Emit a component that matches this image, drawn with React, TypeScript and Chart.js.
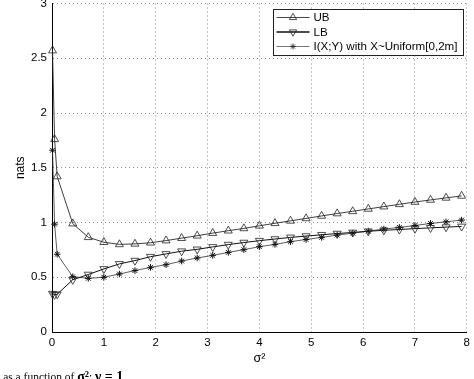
import { useEffect, useRef } from 'react';
import { Chart, registerables } from 'chart.js';

Chart.register(...registerables);

const sigma2 = [0.01, 0.05, 0.1, 0.4, 0.7, 1.0, 1.3, 1.6, 1.9, 2.2, 2.5, 2.8, 3.1, 3.4, 3.7, 4.0, 4.3, 4.6, 4.9, 5.2, 5.5, 5.8, 6.1, 6.4, 6.7, 7.0, 7.3, 7.6, 7.9];
const ubValues = [2.57, 1.76, 1.42, 0.99, 0.865, 0.82, 0.80, 0.805, 0.815, 0.835, 0.857, 0.879, 0.903, 0.925, 0.946, 0.970, 0.993, 1.015, 1.037, 1.060, 1.082, 1.102, 1.124, 1.145, 1.166, 1.187, 1.206, 1.225, 1.243];
const lbValues = [0.35, 0.34, 0.345, 0.477, 0.525, 0.576, 0.622, 0.652, 0.688, 0.713, 0.738, 0.755, 0.777, 0.798, 0.817, 0.834, 0.849, 0.864, 0.876, 0.888, 0.899, 0.909, 0.920, 0.929, 0.936, 0.944, 0.951, 0.958, 0.964];
const miValues = [1.66, 0.985, 0.71, 0.505, 0.49, 0.50, 0.53, 0.561, 0.59, 0.615, 0.648, 0.676, 0.70, 0.727, 0.752, 0.779, 0.80, 0.825, 0.845, 0.864, 0.885, 0.903, 0.921, 0.94, 0.955, 0.973, 0.991, 1.006, 1.022];

const seriesLabels = ['UB', 'LB', 'I(X;Y) with X~Uniform[0,2m]'];
const xTickLabels = ['0', '1', '2', '3', '4', '5', '6', '7', '8'];
const yTickLabels = ['0', '0.5', '1', '1.5', '2', '2.5', '3'];
const xTitle = 'σ²';
const yTitle = 'nats';

const FONT = "'Liberation Sans', Arial, Helvetica, sans-serif";
const OFFSET_TOP = 20;

function drawMarker(ctx: CanvasRenderingContext2D, kind: string, x: number, y: number, r: number) {
  ctx.beginPath();
  if (kind === 'up' || kind === 'down') {
    const base = kind === 'up' ? -Math.PI / 2 : Math.PI / 2;
    for (let k = 0; k < 3; k++) {
      const a = base + (k * 2 * Math.PI) / 3;
      const px = x + Math.cos(a) * r;
      const py = y + Math.sin(a) * r;
      if (k === 0) ctx.moveTo(px, py); else ctx.lineTo(px, py);
    }
    ctx.closePath();
  } else {
    for (let k = 0; k < 4; k++) {
      const a = (k * Math.PI) / 4;
      ctx.moveTo(x - Math.cos(a) * r, y - Math.sin(a) * r);
      ctx.lineTo(x + Math.cos(a) * r, y + Math.sin(a) * r);
    }
  }
  ctx.stroke();
}

const boxLegend = {
  id: 'boxLegend',
  afterDraw(chart: any) {
    const ctx = chart.ctx as CanvasRenderingContext2D;
    const left = 273.5;
    const top = 9.5 + OFFSET_TOP;
    const w = 190;
    const h = 46;
    ctx.save();
    ctx.fillStyle = '#fff';
    ctx.fillRect(left, top, w, h);
    ctx.strokeStyle = '#222';
    ctx.lineWidth = 1;
    ctx.strokeRect(left, top, w, h);
    const kinds = ['up', 'down', 'star'];
    const widths = [0.9, 1.5, 0.8];
    const colors = ['#333', '#111', '#555'];
    const rowY = [top + 8, top + 22.5, top + 37];
    chart.data.datasets.forEach((ds: any, i: number) => {
      const y = rowY[i];
      ctx.strokeStyle = colors[i];
      ctx.lineWidth = widths[i];
      ctx.beginPath();
      ctx.moveTo(left + 3, y);
      ctx.lineTo(left + 36, y);
      ctx.stroke();
      ctx.lineWidth = 0.8;
      ctx.strokeStyle = '#222';
      drawMarker(ctx, kinds[i], left + 19.5, y, kinds[i] === 'star' ? 3 : 4.2);
      ctx.fillStyle = '#000';
      ctx.font = `11.6px ${FONT}`;
      ctx.textBaseline = 'middle';
      ctx.textAlign = 'left';
      ctx.fillText(ds.label, left + 40, y + 0.5);
    });
    ctx.restore();
  },
};

export default function App() {
  const ref = useRef<HTMLCanvasElement>(null);

  useEffect(() => {
    document.body.style.margin = '0';
    const canvas = ref.current!;
    const mk = (vals: number[]) => sigma2.map((x, i) => ({ x, y: vals[i] }));
    const chart = new Chart(canvas, {
      type: 'scatter',
      data: {
        datasets: [
          {
            label: seriesLabels[0],
            data: mk(ubValues),
            showLine: true,
            borderColor: '#2a2a2a',
            borderWidth: 0.9,
            pointStyle: 'triangle',
            pointRadius: 4.6,
            pointBorderWidth: 0.8,
            pointBorderColor: '#222',
            pointBackgroundColor: 'rgba(0,0,0,0)',
            tension: 0,
            clip: false,
          },
          {
            label: seriesLabels[1],
            data: mk(lbValues),
            showLine: true,
            borderColor: '#111',
            borderWidth: 1,
            pointStyle: 'triangle',
            rotation: 180,
            pointRadius: 4.6,
            pointBorderWidth: 0.8,
            pointBorderColor: '#222',
            pointBackgroundColor: 'rgba(0,0,0,0)',
            tension: 0,
            clip: false,
          },
          {
            label: seriesLabels[2],
            data: mk(miValues),
            showLine: true,
            borderColor: '#333',
            borderWidth: 0.8,
            pointStyle: 'star',
            pointRadius: 3.3,
            pointBorderWidth: 1,
            pointBorderColor: '#111',
            pointBackgroundColor: 'rgba(0,0,0,0)',
            tension: 0,
            clip: false,
          },
        ] as any,
      },
      options: {
        responsive: false,
        animation: false,
        events: [],
        layout: { padding: { top: 3.5 + OFFSET_TOP, right: 4, left: 0, bottom: 0 } },
        plugins: { legend: { display: false }, tooltip: { enabled: false } },
        scales: {
          x: {
            type: 'linear',
            min: 0,
            max: 8,
            afterFit: (s: any) => { s.height = 47; },
            ticks: {
              stepSize: 1,
              padding: 4,
              color: '#000',
              font: { size: 11.5, family: FONT },
              maxRotation: 0,
              callback: (_v: any, i: number) => xTickLabels[i],
            },
            grid: { color: '#8a8a8a', lineWidth: 1, drawTicks: false },
            border: { display: true, color: '#000', width: 1, dash: [1, 3] },
            title: {
              display: true,
              text: xTitle,
              color: '#000',
              font: { size: 12.5, family: FONT },
              padding: { top: 0, bottom: 12.6 },
            },
          },
          y: {
            type: 'linear',
            min: 0,
            max: 3,
            afterFit: (s: any) => { s.width = 52; },
            ticks: {
              stepSize: 0.5,
              padding: 5,
              color: '#000',
              font: { size: 11.5, family: FONT },
              callback: (_v: any, i: number) => yTickLabels[i],
            },
            grid: { color: '#8a8a8a', lineWidth: 1, drawTicks: false },
            border: { display: true, color: '#000', width: 1, dash: [1, 3] },
            title: {
              display: true,
              text: yTitle,
              color: '#000',
              font: { size: 12, family: FONT },
              padding: { top: 13.8, bottom: 0 },
            },
          },
        },
      },
      plugins: [boxLegend],
    });
    return () => chart.destroy();
  }, []);

  return (
    <div style={{ position: 'fixed', left: 0, top: 0, width: 474, height: 379, overflow: 'hidden', background: '#fff' }}>
      <canvas
        ref={ref}
        width={474}
        height={399}
        style={{ position: 'absolute', left: 0, top: -OFFSET_TOP, width: 474, height: 399 }}
      />
      <div
        style={{
          position: 'absolute',
          left: -5.5,
          top: 371,
          fontFamily: "'Liberation Serif', 'Times New Roman', serif",
          fontSize: 11.5,
          lineHeight: '11px',
          whiteSpace: 'nowrap',
          color: '#000',
        }}
      >
        n as a function of <b style={{ fontSize: 14 }}>σ²</b>; <b style={{ fontSize: 14 }}>ν = 1</b>
      </div>
    </div>
  );
}
